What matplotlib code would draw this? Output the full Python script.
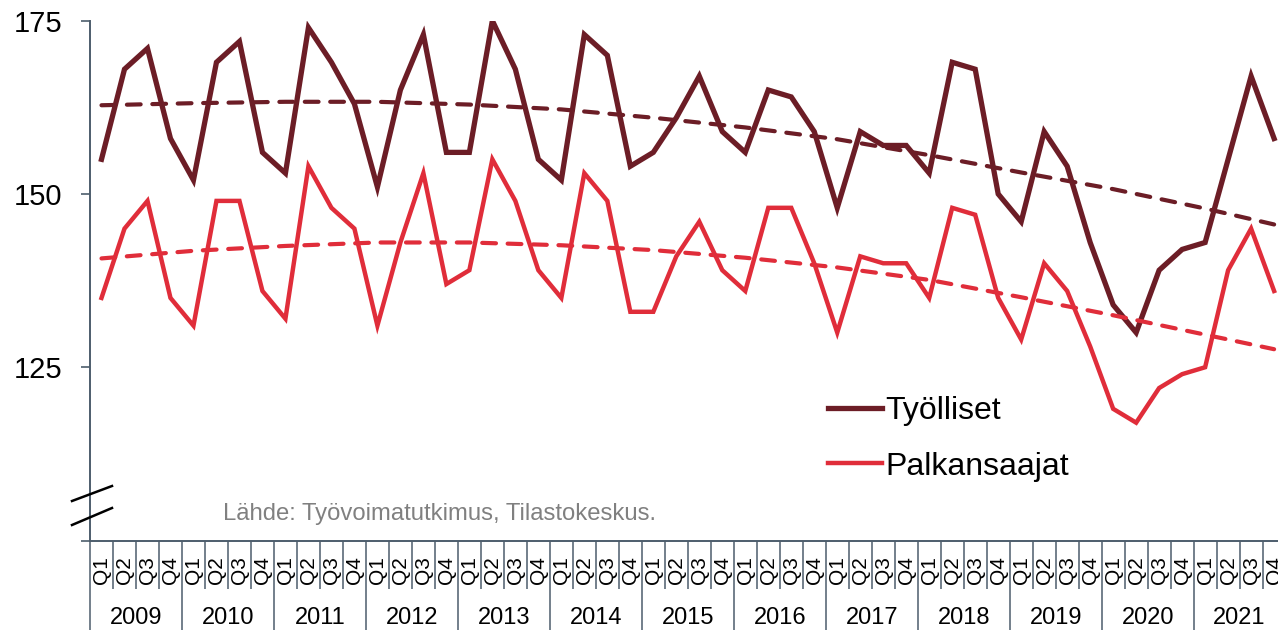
import matplotlib
matplotlib.use("Agg")
import matplotlib.pyplot as plt
import matplotlib.transforms as mtransforms
import numpy as np

plt.rcParams["font.family"] = ["Liberation Sans", "DejaVu Sans"]

years = [str(y) for y in range(2009, 2022)]
quarter_names = ["Q1", "Q2", "Q3", "Q4"]
quarters = [f"{y} {q}" for y in years for q in quarter_names]

# Työlliset, index values
tyolliset = [
    155, 168, 171, 158,   # 2009
    152, 169, 172, 156,   # 2010
    153, 174, 169, 163,   # 2011
    151, 165, 173, 156,   # 2012
    156, 175, 168, 155,   # 2013
    152, 173, 170, 154,   # 2014
    156, 161, 167, 159,   # 2015
    156, 165, 164, 159,   # 2016
    148, 159, 157, 157,   # 2017
    153, 169, 168, 150,   # 2018
    146, 159, 154, 143,   # 2019
    134, 130, 139, 142,   # 2020
    143, 155, 167, 158,   # 2021
]

# Palkansaajat
palkansaajat = [
    135, 145, 149, 135,
    131, 149, 149, 136,
    132, 154, 148, 145,
    131, 143, 153, 137,
    139, 155, 149, 139,
    135, 153, 149, 133,
    133, 141, 146, 139,
    136, 148, 148, 140,
    130, 141, 140, 140,
    135, 148, 147, 135,
    129, 140, 136, 128,
    119, 117, 122, 124,
    125, 139, 145, 136,
]

# dashed trend lines, read at each Q1 and the last quarter
trend_at = [f"{y} Q1" for y in years] + ["2021 Q4"]
trend_tyolliset = [162.8, 163.1, 163.3, 163.3, 162.9, 162.2, 161.0, 159.6,
                   157.9, 155.6, 153.1, 150.7, 147.9, 145.6]
trend_palkansaajat = [140.7, 141.8, 142.5, 143.0, 143.0, 142.6, 141.9, 140.8,
                      139.4, 137.6, 135.1, 132.5, 129.7, 127.6]

dark = "#6c1d26"
red = "#e02d3a"
axis_col = "#4d5d6c"

W, H = 1278, 630
fig = plt.figure(figsize=(W / 100, H / 100), dpi=100)
left_px, right_px, top_px, bottom_px = 90.0, 1285.6, 20.7, 540.5
ax = fig.add_axes([left_px / W, 1 - bottom_px / H,
                   (right_px - left_px) / W, (bottom_px - top_px) / H])

x = np.arange(len(quarters))
xt = [quarters.index(q) for q in trend_at]

l1, = ax.plot(x, tyolliset, color=dark, lw=3.8, solid_joinstyle="miter", label="Työlliset")
l2, = ax.plot(x, palkansaajat, color=red, lw=3.2, solid_joinstyle="miter", label="Palkansaajat")
ax.plot(xt, trend_tyolliset, color=dark, lw=3.0, ls=(0, (3.3, 2.8)), dash_capstyle="round")
ax.plot(xt, trend_palkansaajat, color=red, lw=3.0, ls=(0, (3.3, 2.8)), dash_capstyle="round")

ax.set_xlim(-0.5, len(quarters) - 0.5)
ax.set_ylim(100, 175)
ax.set_yticks([100, 125, 150, 175])
ax.set_yticklabels(["", "125", "150", "175"])
ax.tick_params(axis="y", length=6.5, width=1.2, color=axis_col, pad=13.5,
               labelsize=21, direction="out")

for s in ("top", "right"):
    ax.spines[s].set_visible(False)
for s in ("left", "bottom"):
    ax.spines[s].set_color(axis_col)
    ax.spines[s].set_linewidth(1.4)

# category separators: long ones between years, short ones between quarters
bounds = np.arange(-0.5, len(quarters), 1.0)
year_bounds = bounds[::4]
q_bounds = [b for i, b in enumerate(bounds) if i % 4 != 0]
ax.set_xticks(year_bounds)
ax.set_xticks(q_bounds, minor=True)
ax.set_xticklabels([])
ax.tick_params(axis="x", which="major", length=70, width=1.1, color=axis_col)
ax.tick_params(axis="x", which="minor", length=34.5, width=1.1, color=axis_col)

trans = mtransforms.blended_transform_factory(ax.transData, fig.transFigure)
for i, q in enumerate(quarters):
    ax.text(i, 1 - 570 / H, q.split()[1], transform=trans, rotation=90,
            ha="center", va="center", fontsize=15, clip_on=False)
for k, y in enumerate(years):
    ax.text(4 * k + 1.5, 1 - 618 / H, y, transform=trans, ha="center",
            va="center", fontsize=17, clip_on=False)

# axis break marks
for y0, y1 in [(501, 486), (525, 508)]:
    fig.add_artist(plt.Line2D([72 / W, 112 / W], [1 - y0 / H, 1 - y1 / H],
                              color="black", lw=1.8))

fig.text(223 / W, 1 - 520 / H, "Lähde: Työvoimatutkimus, Tilastokeskus.",
         color="#808080", fontsize=17.2, ha="left", va="baseline")

ax.legend(handles=[l1, l2], loc="upper left", bbox_to_anchor=(828 / W, 1 - 396 / H),
          bbox_transform=fig.transFigure, frameon=False, fontsize=23,
          handlelength=1.7, handletextpad=0.1, labelspacing=0.8, borderpad=0,
          borderaxespad=0)

fig.savefig("out.png", dpi=100)
